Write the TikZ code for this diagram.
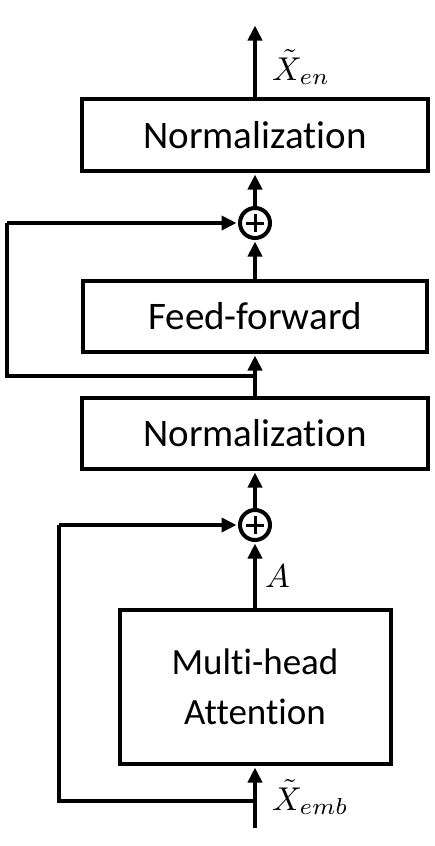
\documentclass[tikz,border=0pt]{standalone}
\usepackage{graphicx}
\usepackage{fontspec}
\setmainfont[Ligatures=NoCommon]{Carlito}
\usetikzlibrary{arrows.meta}
\begin{document}
\begin{tikzpicture}[x=1pt,y=-1pt,
  box/.style={draw,line width=4pt,inner sep=0pt,font=\fontsize{39}{46}\selectfont},
  sumnode/.style={draw,circle,line width=4pt,minimum size=30pt,inner sep=0pt},
  conn/.style={line width=4pt,-{Triangle[width=14pt,length=15pt]},shorten >=1.5pt},
  wire/.style={line width=4pt,line join=miter},
  mlabel/.style={anchor=base west,inner sep=0pt}]
\useasboundingbox (0,0) rectangle (434,846);
\node[box,minimum width=346pt,minimum height=72pt] (norm1) at (255,135) {Normalization};
\node[sumnode] (plus1) at (255,223) {};
\draw[line width=3pt] ([xshift=-9pt]plus1.center) -- ([xshift=9pt]plus1.center)
  ([yshift=-9pt]plus1.center) -- ([yshift=9pt]plus1.center);
\node[box,minimum width=344pt,minimum height=71pt] (ff) at (255,316.5) {Feed-forward};
\node[box,minimum width=346pt,minimum height=71pt] (norm2) at (255,433.5) {Normalization};
\node[sumnode] (plus2) at (255,525) {};
\draw[line width=3pt] ([xshift=-9pt]plus2.center) -- ([xshift=9pt]plus2.center)
  ([yshift=-9pt]plus2.center) -- ([yshift=9pt]plus2.center);
\node[box,minimum width=271pt,minimum height=154pt,align=center,
  font=\fontsize{37}{50}\selectfont] (mha) at (255,687) {Multi-head\\Attention};
\coordinate (out) at (255,24);
\coordinate (in) at (255,828);
\coordinate (br1) at (255,376);
\coordinate (br2) at (255,801);
\draw[conn] (norm1.north) -- (out);
\draw[conn] (plus1.north) -- (norm1.south);
\draw[conn] (ff.north) -- (plus1.south);
\draw[conn] (norm2.north) -- (ff.south);
\draw[wire] (br1) -- (7,376) -- (7,223);
\draw[conn] (7,223) -- (plus1.west);
\draw[conn] (plus2.north) -- (norm2.south);
\draw[conn] (mha.north) -- (plus2.south);
\draw[conn] (in) -- (mha.south);
\draw[wire] (br2) -- (59,801) -- (59,525);
\draw[conn] (59,525) -- (plus2.west);
\node[mlabel] (xen) at (272,80) {\scalebox{3.3}{$\tilde{X}_{en}$}};
\node[mlabel] (alab) at (265,587) {\scalebox{3.3}{$A$}};
\node[mlabel] (xemb) at (272,810) {\scalebox{3.3}{$\tilde{X}_{emb}$}};
\end{tikzpicture}
\end{document}
